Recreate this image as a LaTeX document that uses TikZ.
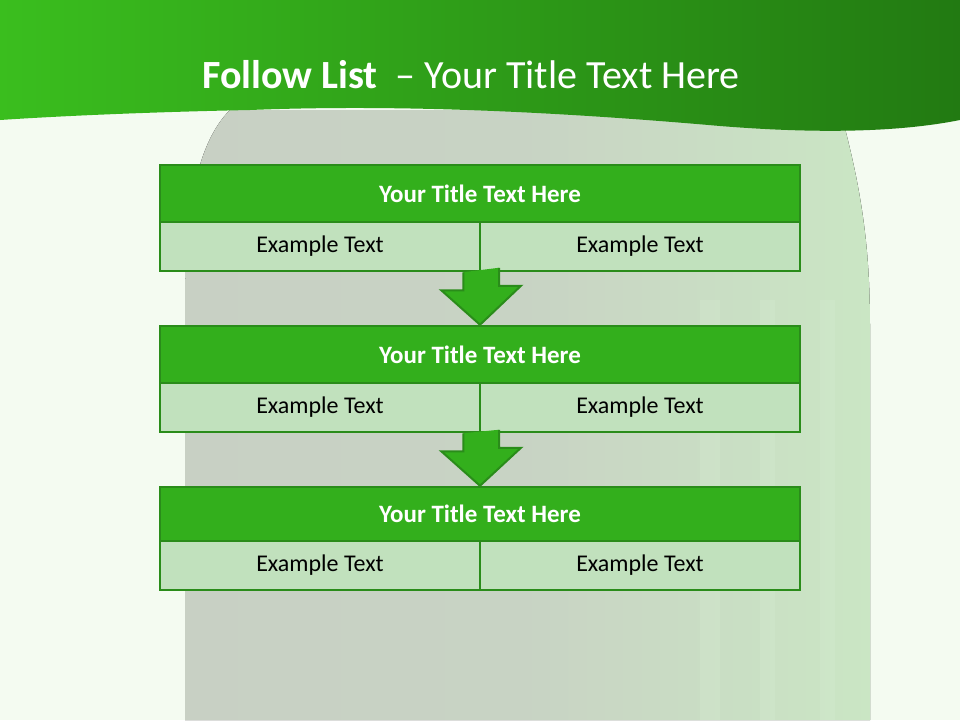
\documentclass[tikz,border=0pt]{standalone}
\usepackage{fontspec}
\setmainfont{Carlito}
\usetikzlibrary{calc}
\definecolor{bgc}{RGB}{244,251,241}
\definecolor{bottleL}{RGB}{200,208,196}
\definecolor{bottleR}{RGB}{202,230,196}
\definecolor{hdrL}{RGB}{58,190,30}
\definecolor{hdrR}{RGB}{34,122,18}
\definecolor{titlefill}{RGB}{51,175,28}
\definecolor{boxedge}{RGB}{42,140,26}
\definecolor{cellfill}{RGB}{193,225,189}
\tikzset{
  x=1pt,y=-1pt,
  titlecell/.style={draw=boxedge,line width=2.5pt,fill=titlefill,minimum width=640pt,minimum height=57pt,inner sep=0pt,font=\fontsize{25}{30}\selectfont\bfseries,text=white},
  excell/.style={draw=boxedge,line width=2.5pt,fill=cellfill,minimum width=320pt,minimum height=49pt,inner sep=0pt,font=\fontsize{24}{29}\selectfont,text=black},
  downarrow/.style={draw=boxedge,line width=2pt,fill=titlefill,line join=miter}
}
\begin{document}
\begin{tikzpicture}
\useasboundingbox (0,0) rectangle (960,720);
\fill[bgc] (0,0) rectangle (960,720);
% background bottle
\fill[left color=bottleL,right color=bottleR,middle color=bottleL!85!bottleR,shading angle=90]
  (185,720) -- (185,300) .. controls (185,200) and (200,140) .. (230,110)
  -- (840,110) .. controls (865,200) and (870,260) .. (870,330) -- (870,720) -- cycle;
\fill[bottleR!80!white,opacity=0.35] (700,300) rectangle (720,720);
\fill[bottleR!80!white,opacity=0.35] (760,300) rectangle (775,720);
\fill[bottleR!80!white,opacity=0.35] (820,300) rectangle (835,720);
% header band
\shade[left color=hdrL,right color=hdrR,shading angle=90]
  (0,0) -- (960,0) -- (960,120) .. controls (900,132) and (820,134) .. (720,126)
  .. controls (560,112) and (400,104) .. (250,110) .. controls (150,112) and (60,116) .. (0,120) -- cycle;
\node[text=white,font=\fontsize{40}{48}\selectfont] (title) at (471,75) {\textbf{Follow List}\ \ – Your Title Text Here};
% box 1
\node[titlecell] (t1) at (480,193.5) {Your Title Text Here};
\node[excell] (a1) at (320,246.5) {Example Text};
\node[excell] (b1) at (640,246.5) {Example Text};
% box 2
\node[titlecell] (t2) at (480,354.5) {Your Title Text Here};
\node[excell] (a2) at (320,407.5) {Example Text};
\node[excell] (b2) at (640,407.5) {Example Text};
% box 3
\node[titlecell,minimum height=54pt] (t3) at (480,514) {Your Title Text Here};
\node[excell] (a3) at (320,565.5) {Example Text};
\node[excell] (b3) at (640,565.5) {Example Text};
% arrows
\draw[downarrow] ($(a1.south east)+(-18,0)$) -- ++(0,18) -- ++(-22,0) -- (t2.north) -- ++(41,-39) -- ++(-22,0) -- ++(0,-18);
\draw[downarrow] ($(a2.south east)+(-18,0)$) -- ++(0,18) -- ++(-22,0) -- (t3.north) -- ++(41,-38) -- ++(-22,0) -- ++(0,-18);
\end{tikzpicture}
\end{document}
